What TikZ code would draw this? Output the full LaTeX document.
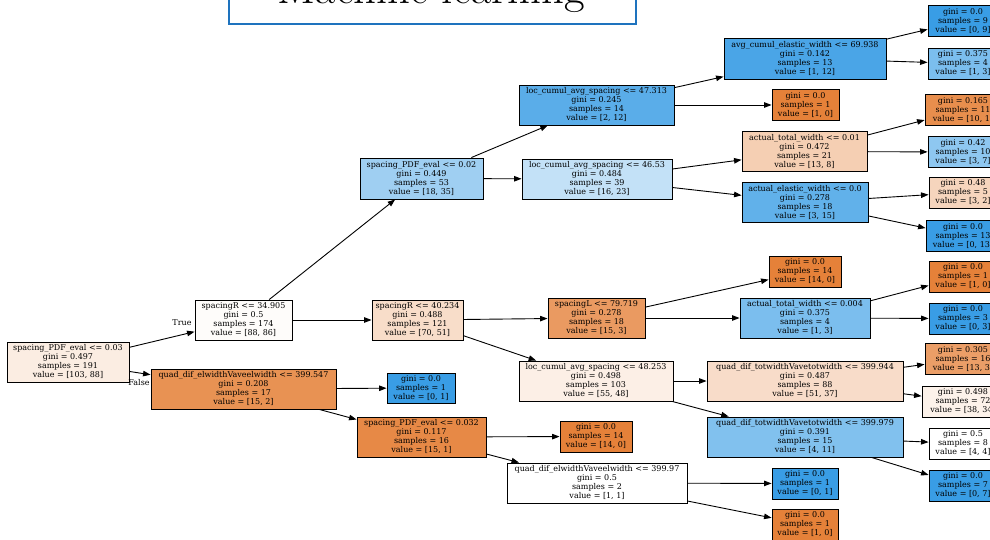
\documentclass[tikz,border=0pt]{standalone}
\usepackage{fontspec}
\newfontfamily\treefont{DejaVu Serif}
\usetikzlibrary{arrows.meta}
\definecolor{tblue}{RGB}{30,115,190}
\definecolor{cor}{RGB}{229,129,57}
\definecolor{cbl}{RGB}{57,157,229}
\definecolor{c0}{RGB}{251,237,226}
\definecolor{c1}{RGB}{254,252,250}
\definecolor{c2}{RGB}{248,221,201}
\definecolor{c3}{RGB}{232,146,83}
\definecolor{c5}{RGB}{231,137,70}
\definecolor{c10}{RGB}{159,207,242}
\definecolor{c11}{RGB}{90,173,233}
\definecolor{c12}{RGB}{195,225,247}
\definecolor{c13}{RGB}{74,165,231}
\definecolor{c15}{RGB}{123,190,238}
\definecolor{c17}{RGB}{245,207,179}
\definecolor{c18}{RGB}{97,177,234}
\definecolor{c19}{RGB}{232,142,77}
\definecolor{c20}{RGB}{142,199,240}
\definecolor{c21}{RGB}{246,213,189}
\definecolor{c23}{RGB}{234,154,97}
\definecolor{c28}{RGB}{252,239,230}
\definecolor{c29}{RGB}{248,220,201}
\definecolor{c30}{RGB}{129,193,238}
\definecolor{c31}{RGB}{235,158,103}
\definecolor{c32}{RGB}{252,242,234}
\newcommand\TN[7]{\node[tn,fill=#6,minimum width=#4pt,minimum height=#5pt] (#1) at (#2,#3) {#7};}
\begin{document}
\begin{tikzpicture}[x=1pt,y=-1pt,
  tn/.style={draw=black,line width=0.9pt,inner sep=0pt,align=center,font=\treefont\fontsize{8.0}{9}\selectfont},
  edge/.style={draw=black,line width=0.9pt,-{Triangle[length=7.5pt,width=5.5pt]}},
  elab/.style={font=\treefont\fontsize{8.0}{9}\selectfont,inner sep=0pt}]
\useasboundingbox (0,0) rectangle (990,540);
\clip (0,0) rectangle (990,540);
\fill[white] (0,0) rectangle (990,540);
% title
\node[draw=tblue,line width=1.8pt,fill=white,minimum width=407pt,minimum height=84pt,inner sep=0pt] (title) at (432.5,-18) {};
\node[font=\fontsize{44.7}{50}\selectfont,inner sep=0pt,anchor=base] (ttext) at (431.5,4) {Machine learning};
% nodes
\TN{n0}{68}{362}{122}{40}{c0}{spacing\_PDF\_eval <= 0.03\\gini = 0.497\\samples = 191\\value = [103, 88]}
\TN{n1}{243.5}{320}{97}{40}{c1}{spacingR <= 34.905\\gini = 0.5\\samples = 174\\value = [88, 86]}
\TN{n2}{417.5}{320}{91}{40}{c2}{spacingR <= 40.234\\gini = 0.488\\samples = 121\\value = [70, 51]}
\TN{n3}{243.5}{389}{185}{40}{c3}{quad\_dif\_elwidthVaveelwidth <= 399.547\\gini = 0.208\\samples = 17\\value = [15, 2]}
\TN{n4}{421}{388}{68}{30}{cbl}{gini = 0.0\\samples = 1\\value = [0, 1]}
\TN{n5}{421.5}{437}{129}{40}{c5}{spacing\_PDF\_eval <= 0.032\\gini = 0.117\\samples = 16\\value = [15, 1]}
\TN{n6}{596}{436.5}{72}{31}{cor}{gini = 0.0\\samples = 14\\value = [14, 0]}
\TN{n7}{597}{483}{180}{40}{white}{quad\_dif\_elwidthVaveelwidth <= 399.97\\gini = 0.5\\samples = 2\\value = [1, 1]}
\TN{n8}{805}{483.5}{66}{31}{cbl}{gini = 0.0\\samples = 1\\value = [0, 1]}
\TN{n9}{805}{524.5}{66}{31}{cor}{gini = 0.0\\samples = 1\\value = [1, 0]}
\TN{n10}{421.5}{178.5}{123}{41}{c10}{spacing\_PDF\_eval <= 0.02\\gini = 0.449\\samples = 53\\value = [18, 35]}
\TN{n11}{596.5}{105}{155}{40}{c11}{loc\_cumul\_avg\_spacing <= 47.313\\gini = 0.245\\samples = 14\\value = [2, 12]}
\TN{n12}{597}{179}{150}{40}{c12}{loc\_cumul\_avg\_spacing <= 46.53\\gini = 0.484\\samples = 39\\value = [16, 23]}
\TN{n13}{805}{58.5}{162}{41}{c13}{avg\_cumul\_elastic\_width <= 69.938\\gini = 0.142\\samples = 13\\value = [1, 12]}
\TN{n14}{963}{21}{70}{31}{cbl}{gini = 0.0\\samples = 9\\value = [0, 9]}
\TN{n15}{963}{63.5}{70}{31}{c15}{gini = 0.375\\samples = 4\\value = [1, 3]}
\TN{n16}{805.5}{105}{67}{31}{cor}{gini = 0.0\\samples = 1\\value = [1, 0]}
\TN{n17}{804.5}{151.5}{125}{40}{c17}{actual\_total\_width <= 0.01\\gini = 0.472\\samples = 21\\value = [13, 8]}
\TN{n18}{805}{202.5}{126}{40}{c18}{actual\_elastic\_width <= 0.0\\gini = 0.278\\samples = 18\\value = [3, 15]}
\TN{n19}{963}{110}{76}{31}{c19}{gini = 0.165\\samples = 11\\value = [10, 1]}
\TN{n20}{963}{152}{70}{31}{c20}{gini = 0.42\\samples = 10\\value = [3, 7]}
\TN{n21}{963}{192.5}{68}{31}{c21}{gini = 0.48\\samples = 5\\value = [3, 2]}
\TN{n22}{963}{236}{74}{31}{cbl}{gini = 0.0\\samples = 13\\value = [0, 13]}
\TN{n23}{596.5}{318}{97}{40}{c23}{spacingL <= 79.719\\gini = 0.278\\samples = 18\\value = [15, 3]}
\TN{n24}{805}{271.5}{72}{31}{cor}{gini = 0.0\\samples = 14\\value = [14, 0]}
\TN{n25}{805}{318}{130}{40}{c15}{actual\_total\_width <= 0.004\\gini = 0.375\\samples = 4\\value = [1, 3]}
\TN{n26}{963}{276.5}{68}{31}{cor}{gini = 0.0\\samples = 1\\value = [1, 0]}
\TN{n27}{963}{318.5}{68}{31}{cbl}{gini = 0.0\\samples = 3\\value = [0, 3]}
\TN{n28}{596}{381}{154}{40}{c28}{loc\_cumul\_avg\_spacing <= 48.253\\gini = 0.498\\samples = 103\\value = [55, 48]}
\TN{n29}{805}{381}{196}{40}{c29}{quad\_dif\_totwidthVavetotwidth <= 399.944\\gini = 0.487\\samples = 88\\value = [51, 37]}
\TN{n30}{805}{437}{196}{40}{c30}{quad\_dif\_totwidthVavetotwidth <= 399.979\\gini = 0.391\\samples = 15\\value = [4, 11]}
\TN{n31}{963}{359}{76}{31}{c31}{gini = 0.305\\samples = 16\\value = [13, 3]}
\TN{n32}{963}{401.5}{82}{31}{c32}{gini = 0.498\\samples = 72\\value = [38, 34]}
\TN{n33}{963}{443.5}{68}{31}{white}{gini = 0.5\\samples = 8\\value = [4, 4]}
\TN{n34}{963}{485.5}{68}{31}{cbl}{gini = 0.0\\samples = 7\\value = [0, 7]}
% edges
\draw[edge] (n0) -- (n1);
\draw[edge] (n0) -- (n3);
\draw[edge] (n1) -- (n10);
\draw[edge] (n1) -- (n2);
\draw[edge] (n3) -- (n4);
\draw[edge] (n3) -- (n5);
\draw[edge] (n5) -- (n6);
\draw[edge] (n5) -- (n7);
\draw[edge] (n7) -- (n8);
\draw[edge] (n7) -- (n9);
\draw[edge] (n10) -- (n11);
\draw[edge] (n10) -- (n12);
\draw[edge] (n11) -- (n13);
\draw[edge] (n11) -- (n16);
\draw[edge] (n13) -- (n14);
\draw[edge] (n13) -- (n15);
\draw[edge] (n12) -- (n17);
\draw[edge] (n12) -- (n18);
\draw[edge] (n17) -- (n19);
\draw[edge] (n17) -- (n20);
\draw[edge] (n18) -- (n21);
\draw[edge] (n18) -- (n22);
\draw[edge] (n2) -- (n23);
\draw[edge] (n2) -- (n28);
\draw[edge] (n23) -- (n24);
\draw[edge] (n23) -- (n25);
\draw[edge] (n25) -- (n26);
\draw[edge] (n25) -- (n27);
\draw[edge] (n28) -- (n29);
\draw[edge] (n28) -- (n30);
\draw[edge] (n29) -- (n31);
\draw[edge] (n29) -- (n32);
\draw[edge] (n30) -- (n33);
\draw[edge] (n30) -- (n34);
% edge labels
\node[elab] (ltrue) at (182,323) {True};
\node[elab] (lfalse) at (139,383) {False};
\end{tikzpicture}
\end{document}
